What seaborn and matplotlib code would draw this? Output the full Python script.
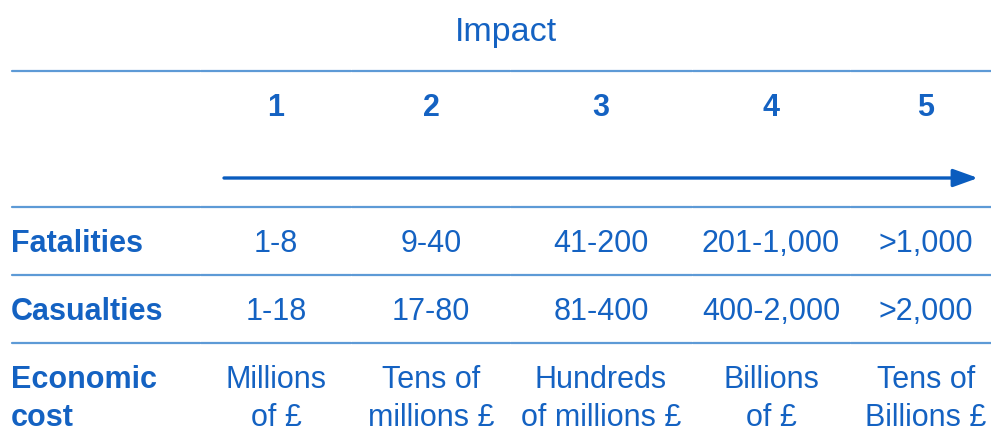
import matplotlib
matplotlib.use("Agg")
import matplotlib.pyplot as plt
import seaborn as sns
import pandas as pd

# ---- data ----
title = "Impact"
impact_levels = ["1", "2", "3", "4", "5"]
row_labels = ["Fatalities", "Casualties", "Economic\ncost"]
fatalities = ["1-8", "9-40", "41-200", "201-1,000", ">1,000"]
casualties = ["1-18", "17-80", "81-400", "400-2,000", ">2,000"]
economic_cost = ["Millions\nof £", "Tens of\nmillions £", "Hundreds\nof millions £",
                 "Billions\nof £", "Tens of\nBillions £"]

# ---- layout (pixel-based coordinate system) ----
W, H = 991, 443
col_x = [276, 431, 601, 771, 926]
col_breaks = [11, 200, 351, 510, 692, 850, 991]
rule_y = [71, 207, 275, 343]
row_y = [244, 312, 399]
num_y = 108
title_y = 32
arrow_y = 178
arrow_x0, arrow_x1 = 224, 978

TXT = "#1462c2"
RULE = "#5d9ad6"
ARROW = "#0a5cbe"
FS = 22

sns.set_theme(style="white")
plt.rcParams['font.family'] = ['Liberation Sans', 'DejaVu Sans']

fig = plt.figure(figsize=(W / 100, H / 100), dpi=100)
ax = fig.add_axes([0, 0, 1, 1])

# horizontal rules, drawn as segments with tiny gaps at column boundaries
segs = []
uid = 0
for y in rule_y:
    for a, b in zip(col_breaks[:-1], col_breaks[1:]):
        segs.append({"x": a + 0.5, "y": y, "u": uid})
        segs.append({"x": b - 0.5, "y": y, "u": uid})
        uid += 1
df = pd.DataFrame(segs)
sns.lineplot(data=df, x="x", y="y", units="u", estimator=None, color=RULE,
             lw=1.6, ax=ax, legend=False, sort=False)
ax.set_xlim(0, W)
ax.set_ylim(H, 0)
ax.axis("off")

# arrow
ax.annotate("", xy=(arrow_x1, arrow_y), xytext=(arrow_x0, arrow_y),
            arrowprops=dict(arrowstyle="-|>,head_length=1.25,head_width=0.45",
                            color=ARROW, lw=2.4, shrinkA=0, shrinkB=0))

# title
ax.text(506, title_y, title, ha="center", va="center", fontsize=24.5,
        color=TXT, fontweight="medium")

# impact numbers
for x, lab in zip(col_x, impact_levels):
    ax.text(x, num_y, lab, ha="center", va="center", fontsize=FS,
            fontweight="bold", color=TXT)

# row labels
for y, lab in zip(row_y, row_labels):
    ax.text(11, y, lab, ha="left", va="center", fontsize=FS,
            fontweight="bold", color=TXT, linespacing=1.35)

# cells
for y, vals in zip(row_y, [fatalities, casualties, economic_cost]):
    for x, v in zip(col_x, vals):
        ax.text(x, y, v, ha="center", va="center", fontsize=FS, color=TXT,
                linespacing=1.35)

fig.savefig("out.png", dpi=100)
